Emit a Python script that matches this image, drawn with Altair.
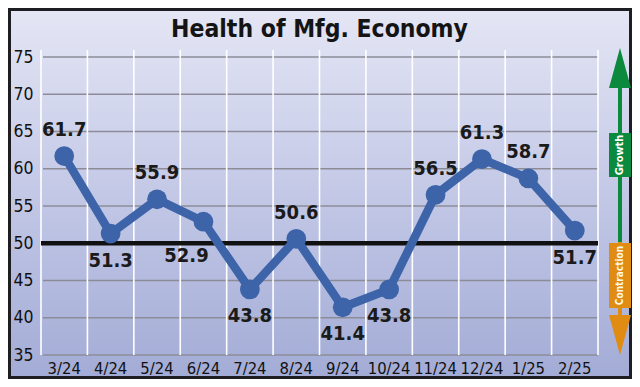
import altair as alt
import pandas as pd

# ---- data ----
months = ["3/24", "4/24", "5/24", "6/24", "7/24", "8/24",
          "9/24", "10/24", "11/24", "12/24", "1/25", "2/25"]
values = [61.7, 51.3, 55.9, 52.9, 43.8, 50.6, 41.4, 43.8, 56.5, 61.3, 58.7, 51.7]
label_side = ["above", "below", "above", "below-left", "below", "above",
              "below", "below", "above", "above", "above", "below"]
y_ticks = [35, 40, 45, 50, 55, 60, 65, 70, 75]
threshold = [50]
title_text = "Health of Mfg. Economy"
growth_text = "Growth"
contraction_text = "Contraction"

df = pd.DataFrame({"month": months, "value": values, "side": label_side})
ticks_df = pd.DataFrame({"value": y_ticks})
thr_df = pd.DataFrame({"value": threshold})
months_df = pd.DataFrame({"month": months})
one = alt.Data(values=[{}])

FONT = "Liberation Sans Narrow, DejaVu Sans Condensed, Roboto, sans-serif"
W, H = 557, 298
PL, PT = 33, 49
TOTAL_W, TOTAL_H = 624, 371
LINE_BLUE = "#3d63a9"
GREEN = "#0b8a3d"
ORANGE = "#e08c12"

xscale = alt.Scale(type="band", domain=months, paddingInner=0, paddingOuter=0)
yscale = alt.Scale(domain=[35, 75], nice=False, zero=False)
xaxis = alt.Axis(title=None, labelAngle=0, domain=False, ticks=False, grid=False,
                 tickSize=0, labelPadding=5, labelFont=FONT,
                 labelFontSize=16.5, labelColor="#111111", zindex=2)
yaxis = alt.Axis(title=None, values=y_ticks, grid=False, domain=False,
                 ticks=False, tickSize=0, labelPadding=8, labelFont=FONT,
                 labelFontSize=17.5, labelColor="#111111", zindex=2)


def X(**kw):
    return alt.X("month:N", scale=xscale, axis=xaxis, sort=months, **kw)


def Y():
    return alt.Y("value:Q", scale=yscale, axis=yaxis)


# background frame and gradient
frame = alt.Chart(one).mark_rect(color="#1e1e22").encode(
    x=alt.value(-PL), x2=alt.value(TOTAL_W - PL),
    y=alt.value(-PT), y2=alt.value(TOTAL_H - PT))
grad = alt.Chart(one).mark_rect(
    color=alt.LinearGradient(
        gradient="linear", x1=0, x2=0, y1=0, y2=1,
        stops=[alt.GradientStop(color="#e4e6f5", offset=0),
               alt.GradientStop(color="#c3c8e6", offset=0.5),
               alt.GradientStop(color="#a3acd6", offset=1)])
).encode(
    x=alt.value(-PL + 3), x2=alt.value(TOTAL_W - PL - 3),
    y=alt.value(-PT + 3), y2=alt.value(TOTAL_H - PT - 3))

title = alt.Chart(one).mark_text(
    text=title_text, font=FONT, fontSize=24.5, fontWeight="bold",
    color="#141414", align="center", baseline="alphabetic"
).encode(x=alt.value(W / 2), y=alt.value(-20))

# gridlines
hgrid = alt.Chart(ticks_df).mark_rule(color="#8c8c98", strokeWidth=1.5).encode(
    y=Y(), x=alt.value(2), x2=alt.value(W))
vgrid = alt.Chart(months_df).mark_rule(color="white", strokeWidth=1.6).encode(
    x=X(bandPosition=0), y=alt.value(-7), y2=alt.value(H))
vgrid_right = alt.Chart(one).mark_rule(color="white", strokeWidth=1.6).encode(
    x=alt.value(W), y=alt.value(-7), y2=alt.value(H))

thr = alt.Chart(thr_df).mark_rule(color="#111111", strokeWidth=4.5).encode(
    y=Y(), x=alt.value(0), x2=alt.value(W))

line = alt.Chart(df).mark_line(color=LINE_BLUE, strokeWidth=8.5).encode(x=X(), y=Y())
pts = alt.Chart(df).mark_circle(color=LINE_BLUE, size=390, opacity=1).encode(x=X(), y=Y())


def labels(side, dx, dy):
    return alt.Chart(df).transform_filter(alt.datum.side == side).mark_text(
        font=FONT, fontSize=20, fontWeight="bold", color="#1a1a1a", dx=dx, dy=dy,
        baseline="middle"
    ).encode(x=X(), y=Y(), text=alt.Text("value:Q", format=".1f"))


lab_above = labels("above", 0, -26)
lab_below = labels("below", 0, 27)
lab_below_left = labels("below-left", -17, 34)

# growth / contraction arrow
AX = 579
up_shape = "M-0.55,1 L0,-1 L0.55,1 Z"
down_shape = "M-0.55,-1 L0,1 L0.55,-1 Z"
g_shaft = alt.Chart(one).mark_rule(color=GREEN, strokeWidth=4).encode(
    x=alt.value(AX), y=alt.value(28), y2=alt.value(185))
o_shaft = alt.Chart(one).mark_rule(color=ORANGE, strokeWidth=4).encode(
    x=alt.value(AX), y=alt.value(185), y2=alt.value(262))
up_tri = alt.Chart(one).mark_point(shape=up_shape, filled=True, color=GREEN,
                                   opacity=1, size=1600).encode(
    x=alt.value(AX), y=alt.value(11))
down_tri = alt.Chart(one).mark_point(shape=down_shape, filled=True, color=ORANGE,
                                     opacity=1, size=1600).encode(
    x=alt.value(AX), y=alt.value(278))
g_box = alt.Chart(one).mark_rect(color=GREEN).encode(
    x=alt.value(AX - 11), x2=alt.value(AX + 11), y=alt.value(76), y2=alt.value(120))
o_box = alt.Chart(one).mark_rect(color=ORANGE).encode(
    x=alt.value(AX - 11), x2=alt.value(AX + 11), y=alt.value(186), y2=alt.value(251))
g_txt = alt.Chart(one).mark_text(text=growth_text, angle=270, font=FONT, fontSize=11,
                                 fontWeight="bold", color="white", align="center",
                                 baseline="middle").encode(
    x=alt.value(AX), y=alt.value(98))
o_txt = alt.Chart(one).mark_text(text=contraction_text, angle=270, font=FONT, fontSize=10,
                                 fontWeight="bold", color="#fff8e8", align="center",
                                 baseline="middle").encode(
    x=alt.value(AX), y=alt.value(218.5))

chart = alt.layer(
    frame, grad, title, hgrid, vgrid, vgrid_right, thr, line, pts,
    lab_above, lab_below, lab_below_left, g_shaft, o_shaft, up_tri, down_tri,
    g_box, o_box, g_txt, o_txt
).properties(
    width=W, height=H,
    autosize=alt.AutoSizeParams(type="none"),
    padding={"left": PL, "top": PT, "right": TOTAL_W - PL - W, "bottom": TOTAL_H - PT - H},
).configure_view(stroke=None)

chart.save("out.html", embed_options={"renderer": "svg", "actions": False})
